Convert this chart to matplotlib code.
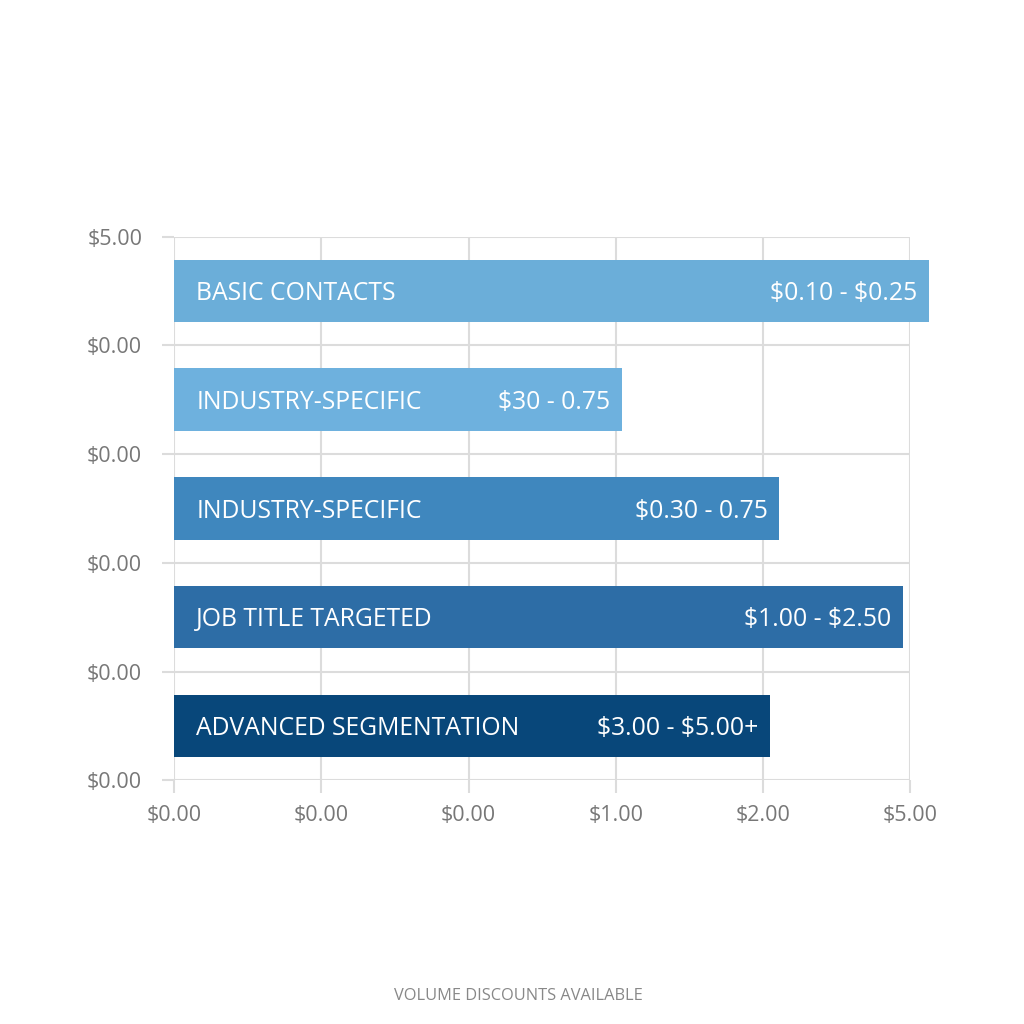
import matplotlib
matplotlib.use("Agg")
import matplotlib.pyplot as plt

categories = ["BASIC CONTACTS", "INDUSTRY-SPECIFIC", "INDUSTRY-SPECIFIC",
              "JOB TITLE TARGETED", "ADVANCED SEGMENTATION"]
bar_values = [5.13, 3.04, 4.11, 4.95, 4.05]
value_labels = ["$0.10 - $0.25", "$30 - 0.75", "$0.30 - 0.75",
                "$1.00 - $2.50", "$3.00 - $5.00+"]
colors = ["#6BAED9", "#6EB1DE", "#3F87BE", "#2D6DA6", "#08477A"]
xtick_labels = ["$0.00", "$0.00", "$0.00", "$1.00", "$2.00", "$5.00"]
ytick_labels = ["$0.00", "$0.00", "$0.00", "$0.00", "$0.00", "$5.00"]
footer = "VOLUME DISCOUNTS AVAILABLE"

plt.rcParams['font.family'] = ['Open Sans', 'DejaVu Sans']
plt.rcParams['text.parse_math'] = False

fig = plt.figure(figsize=(10.24, 10.24), dpi=100)
fig.patch.set_facecolor("white")
ax = fig.add_axes([0.170, 0.238, 0.719, 0.531])

n = len(categories)
ypos = [n - 0.5 - i for i in range(n)]
ax.barh(ypos, bar_values, height=0.575, color=colors, clip_on=False, zorder=3)

for y, v, cat, lab in zip(ypos, bar_values, categories, value_labels):
    ax.text(0.15, y - 0.025, cat, color="white", fontsize=17.8, va="center", ha="left", zorder=4)
    ax.text(v - 0.08, y - 0.025, lab, color="white", fontsize=17.8, va="center", ha="right", zorder=4)

ax.set_xlim(0, 5)
ax.set_ylim(0, 5)
ax.set_xticks(range(6))
ax.set_xticklabels(xtick_labels)
ax.set_yticks(range(6))
ax.set_yticklabels(ytick_labels)
ax.grid(True, color="#dcdcdc", linewidth=1.5, zorder=0)
ax.set_axisbelow(True)
for s in ax.spines.values():
    s.set_visible(False)
ax.tick_params(axis="both", colors="#dcdcdc", length=9, width=1.5, labelsize=15.5,
               labelcolor="#777777")
ax.tick_params(axis="x", pad=9)
ax.tick_params(axis="y", pad=14)

fig.text(0.506, 0.027, footer, ha="center", va="center", fontsize=11.8, color="#888888")

fig.savefig("out.png", dpi=100, facecolor="white")
